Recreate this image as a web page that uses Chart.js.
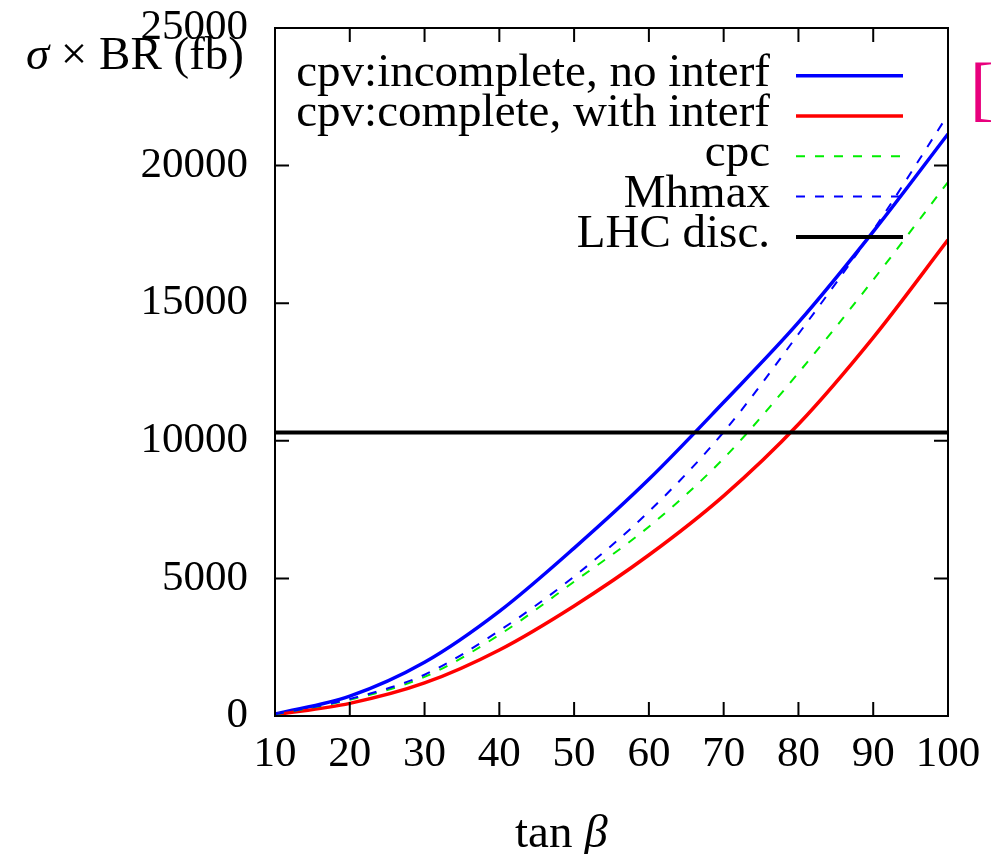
<!DOCTYPE html>
<html>
<head>
<meta charset="utf-8">
<script src="https://cdn.jsdelivr.net/npm/chart.js@4"></script>
<style>
  html, body { margin: 0; padding: 0; background: #fff; }
</style>
</head>
<body>
<canvas id="xsecChart" width="991" height="854"></canvas>
<script>
// tan(beta) grid and sigma x BR values (fb)
const tanBeta = [10, 20, 30, 40, 50, 60, 70, 80, 90, 100];
const cpvIncomplete = [70, 720, 1950, 3800, 6100, 8600, 11400, 14300, 17600, 21150];
const cpvComplete = [40, 460, 1200, 2400, 4000, 5850, 8000, 10600, 13750, 17300];
const cpc = [55, 590, 1420, 2950, 4880, 6880, 9360, 12470, 15850, 19400];
const mhmax = [60, 620, 1500, 3100, 5070, 7430, 10320, 13880, 17650, 21850];
const lhcRange = [10, 100];
const lhcDisc = [10300, 10300];

const seriesNames = ["cpv:incomplete, no interf", "cpv:complete, with interf", "cpc", "Mhmax", "LHC disc."];

const SERIF = "'Liberation Serif', 'DejaVu Serif', serif";

function pts(xs, ys) {
  return xs.map((x, i) => ({ x: x, y: ys[i] }));
}

// frame, inward ticks, axis titles, legend, stray bracket
const decor = {
  id: "decor",
  afterDatasetsDraw(chart) {
    const { ctx, chartArea: a, scales } = chart;
    const x = scales.x, y = scales.y;
    ctx.save();

    ctx.strokeStyle = "#000";
    ctx.lineWidth = 2;
    ctx.strokeRect(a.left, a.top, a.right - a.left, a.bottom - a.top);

    const tl = 14;
    ctx.beginPath();
    x.ticks.forEach(t => {
      const px = x.getPixelForValue(t.value);
      ctx.moveTo(px, a.bottom); ctx.lineTo(px, a.bottom - tl);
      ctx.moveTo(px, a.top); ctx.lineTo(px, a.top + tl);
    });
    y.ticks.forEach(t => {
      const py = y.getPixelForValue(t.value);
      ctx.moveTo(a.left, py); ctx.lineTo(a.left + tl, py);
      ctx.moveTo(a.right, py); ctx.lineTo(a.right - tl, py);
    });
    ctx.stroke();

    // legend, text right-aligned with sample on the right
    ctx.fillStyle = "#000";
    ctx.textAlign = "right";
    ctx.textBaseline = "alphabetic";
    ctx.font = "47px " + SERIF;
    chart.data.datasets.forEach((ds, i) => {
      const ry = 75.7 + i * 40.3;
      ctx.fillText(ds.label, 770, ry + 10);
      ctx.beginPath();
      ctx.strokeStyle = ds.borderColor;
      ctx.lineWidth = ds.borderWidth;
      ctx.setLineDash(ds.borderDash || []);
      ctx.moveTo(796, ry);
      ctx.lineTo(903, ry);
      ctx.stroke();
    });
    ctx.setLineDash([]);

    // y title: sigma x BR (fb)
    ctx.textAlign = "left";
    ctx.font = "italic 47px " + SERIF;
    const w1 = ctx.measureText("\u03c3").width;
    ctx.font = "47px " + SERIF;
    const rest = " \u00d7 BR (fb)";
    const w2 = ctx.measureText(rest).width;
    const sx = 244 - (w1 + w2);
    ctx.font = "italic 47px " + SERIF;
    ctx.fillText("\u03c3", sx, 69);
    ctx.font = "47px " + SERIF;
    ctx.fillText(rest, sx + w1, 69);

    // x title: tan beta
    ctx.font = "47px " + SERIF;
    const tw = ctx.measureText("tan ").width;
    ctx.fillText("tan ", 515, 847);
    ctx.font = "italic 47px " + SERIF;
    ctx.fillText("\u03b2", 515 + tw, 847);

    // clipped magenta bracket at the right edge
    ctx.fillStyle = "#e8007d";
    ctx.font = "72px " + SERIF;
    ctx.fillText("[", 970, 112);

    ctx.restore();
  }
};

const ctx = document.getElementById("xsecChart").getContext("2d");

new Chart(ctx, {
  type: "line",
  data: {
    datasets: [
      { label: seriesNames[0], data: pts(tanBeta, cpvIncomplete), borderColor: "#0000ff", borderWidth: 3.5, order: 4 },
      { label: seriesNames[1], data: pts(tanBeta, cpvComplete), borderColor: "#ff0000", borderWidth: 3.5, order: 3 },
      { label: seriesNames[2], data: pts(tanBeta, cpc), borderColor: "#00ee00", borderWidth: 2, borderDash: [9, 10], order: 2 },
      { label: seriesNames[3], data: pts(tanBeta, mhmax), borderColor: "#0000ff", borderWidth: 2, borderDash: [9, 10], order: 1 },
      { label: seriesNames[4], data: pts(lhcRange, lhcDisc), borderColor: "#000000", borderWidth: 4, order: 0 }
    ]
  },
  options: {
    responsive: false,
    animation: false,
    elements: {
      point: { radius: 0 },
      line: { cubicInterpolationMode: "monotone", fill: false }
    },
    layout: { padding: { top: 28, right: 43, left: 0, bottom: 0 } },
    plugins: {
      legend: { display: false },
      tooltip: { enabled: false }
    },
    scales: {
      x: {
        type: "linear",
        min: 10,
        max: 100,
        grid: { display: false, drawTicks: false },
        border: { display: false },
        ticks: {
          stepSize: 10,
          autoSkip: false,
          maxRotation: 0,
          padding: 13,
          color: "#000",
          font: { family: SERIF, size: 43 },
          callback: v => String(v)
        },
        afterFit: s => {
          s.height = 138;
          s.paddingLeft = 0;
          s.paddingRight = 0;
        }
      },
      y: {
        type: "linear",
        min: 0,
        max: 25000,
        grid: { display: false, drawTicks: false },
        border: { display: false },
        ticks: {
          stepSize: 5000,
          autoSkip: false,
          padding: 27,
          color: "#000",
          font: { family: SERIF, size: 43 },
          callback: v => String(v)
        },
        afterFit: s => {
          s.width = 275;
          s.paddingTop = 0;
          s.paddingBottom = 0;
        }
      }
    }
  },
  plugins: [decor]
});
</script>
</body>
</html>
